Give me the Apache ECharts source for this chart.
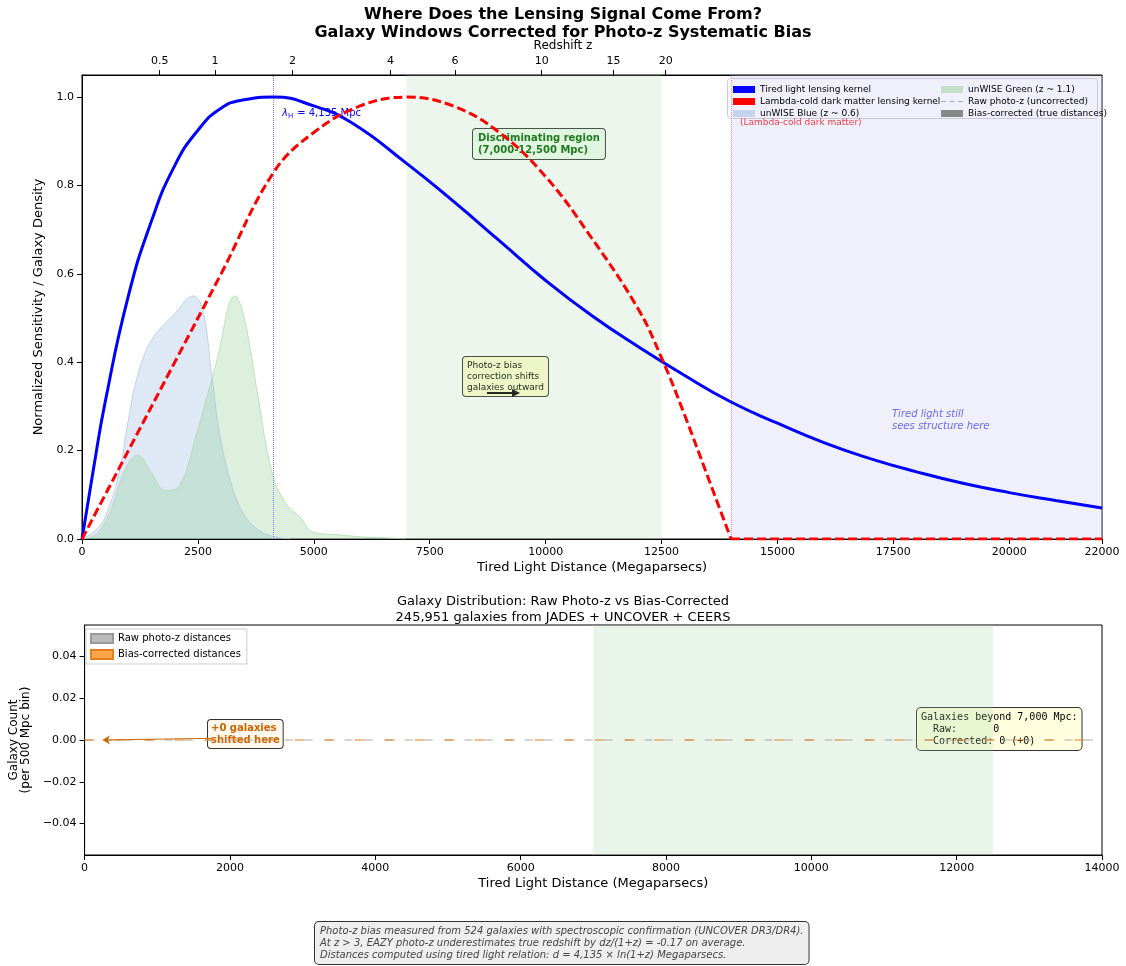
<!DOCTYPE html><html><head><meta charset="utf-8"><script src="https://cdn.jsdelivr.net/npm/echarts@6/dist/echarts.min.js"></script>
<style>body{margin:0}#c{width:1126px;height:966px}</style></head><body><div id="c"></div><script>
const tiredLight=[[0,0],[250,0.16],[500,0.31],[1000,0.55],[1500,0.72],[2000,0.845],[2500,0.925],[3000,0.975],[3500,0.994],[4135,1.0],[5000,0.98],[5800,0.943],[7000,0.85],[8000,0.765],[9000,0.675],[10000,0.585],[11000,0.505],[12000,0.435],[13000,0.37],[14000,0.31],[15000,0.262],[16000,0.218],[17000,0.182],[18000,0.152],[19000,0.126],[20000,0.105],[21000,0.087],[22000,0.07]];
const lcdm=[[0,0],[1000,0.2],[2000,0.4],[3000,0.6],[4135,0.83],[5000,0.92],[6000,0.98],[7000,1.0],[8000,0.98],[9000,0.92],[10000,0.82],[11000,0.68],[12000,0.52],[12500,0.41],[13000,0.28],[13500,0.14],[14000,0]];
const lcdmTail=[[14000,0],[22000,0]];
const unwiseBlue=[[0,0],[300,0.02],[500,0.05],[800,0.15],[1000,0.27],[1200,0.37],[1500,0.45],[2000,0.51],[2400,0.55],[2600,0.52],[2800,0.37],[3000,0.22],[3300,0.1],[3600,0.04],[4000,0.01],[4500,0]];
const unwiseGreen=[[0,0],[300,0.01],[600,0.06],[900,0.15],[1200,0.19],[1500,0.15],[1800,0.11],[2100,0.12],[2500,0.25],[2900,0.4],[3300,0.55],[3500,0.5],[3800,0.32],[4100,0.15],[4400,0.08],[4700,0.05],[5000,0.015],[5500,0.01],[6000,0.005],[6500,0.003],[7000,0]];
const redshiftTicks=[0.5,1,2,4,6,10,15,20];
const lambdaH=4135;
const discRegion=[7000,12500];
const lcdmCutoff=14000;
const F='DejaVu Sans';
const chart=echarts.init(document.getElementById('c'));
const lg={orient:'vertical',itemWidth:22,itemHeight:7,itemGap:3,textStyle:{fontSize:9,color:'#000'}};
chart.setOption({
textStyle:{fontFamily:F},
title:[{text:'Where Does the Lensing Signal Come From?\nGalaxy Windows Corrected for Photo-z Systematic Bias',left:'center',top:1,textStyle:{fontSize:16,fontWeight:'bold',lineHeight:18,color:'#000'}},
{text:'Galaxy Distribution: Raw Photo-z vs Bias-Corrected\n245,951 galaxies from JADES + UNCOVER + CEERS',left:'center',top:589,textStyle:{fontSize:13,fontWeight:'normal',lineHeight:16,color:'#000'}}],
grid:[{left:82,right:24,top:75,height:464,show:true,borderColor:'#000',borderWidth:1},{left:82,right:24,top:625,height:230,show:true,borderColor:'#000',borderWidth:1}],
legend:[Object.assign({data:[{name:'Tired light lensing kernel',icon:'rect',itemStyle:{color:'#0000ff'}},{name:'Lambda-cold dark matter lensing kernel',icon:'rect',itemStyle:{color:'#ff0000'}},{name:'unWISE Blue (z ~ 0.6)',icon:'rect'}],left:728,top:80},lg),
Object.assign({data:[{name:'unWISE Green (z ~ 1.1)',icon:'rect'},{name:'Raw photo-z (uncorrected)',icon:'path://M0,0H4V1H0ZM7,0H11V1H7ZM14,0H18V1H14Z'},{name:'Bias-corrected (true distances)',icon:'rect',itemStyle:{color:'#888'}}],left:936,top:80},lg),
{data:[{name:'Raw photo-z distances',icon:'rect'},{name:'Bias-corrected distances',icon:'rect'}],orient:'vertical',left:86,top:629,itemWidth:22,itemHeight:9,itemGap:5,textStyle:{fontSize:10,color:'#000'},backgroundColor:'#fff',borderColor:'#ccc',borderWidth:1,padding:[4,6,4,4]}],
xAxis:[{gridIndex:0,type:'value',min:0,max:22000,interval:2500,name:'Tired Light Distance (Megaparsecs)',nameLocation:'middle',nameGap:22,nameTextStyle:{fontSize:13,color:'#000'},axisLine:{lineStyle:{color:'#000'}},axisLabel:{color:'#000',fontSize:11,formatter:v=>String(v)},splitLine:{show:false},axisTick:{lineStyle:{color:'#000'}}},
{gridIndex:0,type:'value',position:'top',min:0,max:22000,axisLine:{lineStyle:{color:'#000'}},splitLine:{show:false},
 axisLabel:{color:'#000',fontSize:11,customValues:redshiftTicks.map(z=>lambdaH*Math.log(1+z)),formatter:v=>{const z=Math.exp(v/lambdaH)-1;return String(Math.round(z*10)/10);}},axisTick:{customValues:redshiftTicks.map(z=>lambdaH*Math.log(1+z)),lineStyle:{color:'#000'}}},
{gridIndex:1,type:'value',min:0,max:14000,interval:2000,name:'Tired Light Distance (Megaparsecs)',nameLocation:'middle',nameGap:22,nameTextStyle:{fontSize:13,color:'#000'},axisLine:{onZero:false,lineStyle:{color:'#000'}},axisLabel:{color:'#000',fontSize:11,formatter:v=>String(v)},splitLine:{show:false},axisTick:{lineStyle:{color:'#000'}}}],
yAxis:[{gridIndex:0,type:'value',min:0,max:1.05,name:'Normalized Sensitivity / Galaxy Density',nameLocation:'middle',nameGap:34,nameTextStyle:{fontSize:13,color:'#000'},axisLine:{show:true,lineStyle:{color:'#000'}},axisTick:{show:true,customValues:[0,0.2,0.4,0.6,0.8,1.0]},axisLabel:{color:'#000',fontSize:11,customValues:[0,0.2,0.4,0.6,0.8,1.0],formatter:v=>v.toFixed(1)},splitLine:{show:false}},
{gridIndex:1,type:'value',min:-0.055,max:0.055,name:'Galaxy Count\n(per 500 Mpc bin)',nameLocation:'middle',nameGap:44,nameTextStyle:{fontSize:12,color:'#000'},axisLine:{show:true,onZero:false,lineStyle:{color:'#000'}},axisTick:{show:true,customValues:[-0.04,-0.02,0,0.02,0.04]},axisLabel:{color:'#000',fontSize:11,customValues:[-0.04,-0.02,0,0.02,0.04],formatter:v=>(v<0?'\u2212':'')+Math.abs(v).toFixed(2)},splitLine:{show:false}}],
series:[
{name:'unWISE Blue (z ~ 0.6)',type:'line',xAxisIndex:0,yAxisIndex:0,data:unwiseBlue,smooth:0.4,symbol:'none',lineStyle:{color:'#a8c4e0',width:1,opacity:0.7},itemStyle:{color:'rgba(158,192,226,0.55)',borderColor:'#a8c4e0'},areaStyle:{color:'rgba(150,185,222,0.45)'},z:2,
 markArea:{silent:true,itemStyle:{color:'rgba(160,210,160,0.2)'},data:[[{xAxis:discRegion[0]},{xAxis:discRegion[1]}]]}},
{name:'unWISE Green (z ~ 1.1)',type:'line',xAxisIndex:0,yAxisIndex:0,data:unwiseGreen,smooth:0.4,symbol:'none',lineStyle:{color:'#a8d8a8',width:1,opacity:0.7},itemStyle:{color:'rgba(150,210,150,0.5)',borderColor:'#a8d8a8'},areaStyle:{color:'rgba(140,205,140,0.42)'},z:2,
 markArea:{silent:true,itemStyle:{color:'rgba(200,200,245,0.28)'},data:[[{xAxis:lcdmCutoff},{xAxis:22000}]]}},
{name:'Tired light lensing kernel',type:'line',xAxisIndex:0,yAxisIndex:0,data:tiredLight,smooth:0.5,symbol:'none',lineStyle:{color:'#0000ff',width:3},itemStyle:{color:'#0000ff'},z:5,
 markLine:{silent:true,symbol:'none',label:{show:false},data:[{xAxis:lambdaH,lineStyle:{color:'#8080ff',type:'dotted',width:1}},{xAxis:lcdmCutoff,lineStyle:{color:'#ff80c0',type:'dotted',width:1}}]}},
{name:'Lambda-cold dark matter lensing kernel',type:'line',xAxisIndex:0,yAxisIndex:0,data:lcdm,smooth:0.4,symbol:'none',lineStyle:{color:'#ff0000',width:3,type:[9,4]},itemStyle:{color:'#ff0000'},z:5},
{name:'lcdmTail',type:'line',xAxisIndex:0,yAxisIndex:0,data:lcdmTail,symbol:'none',lineStyle:{color:'#ff0000',width:3,type:[9,4]},z:5},
{name:'Raw photo-z (uncorrected)',type:'line',xAxisIndex:0,yAxisIndex:0,data:[],itemStyle:{color:'#aaa'},symbol:'none'},
{name:'Bias-corrected (true distances)',type:'line',xAxisIndex:0,yAxisIndex:0,data:[],itemStyle:{color:'#888'},symbol:'none'},
{name:'Raw photo-z distances',type:'line',xAxisIndex:2,yAxisIndex:1,data:[[0,0],[14000,0]],symbol:'none',lineStyle:{color:'#aaa',type:[8,12],width:1},itemStyle:{color:'#bbb',borderColor:'#999',borderWidth:1},
 markArea:{silent:true,itemStyle:{color:'rgba(160,210,160,0.22)'},data:[[{xAxis:discRegion[0]},{xAxis:discRegion[1]}]]}},
{name:'Bias-corrected distances',type:'line',xAxisIndex:2,yAxisIndex:1,data:[[0,0],[14000,0]],symbol:'none',lineStyle:{color:'#e08020',type:[10,20],width:1},itemStyle:{color:'#ffa64d',borderColor:'#e08020',borderWidth:1},
 markLine:{silent:true,symbol:['none','arrow'],symbolSize:7,lineStyle:{color:'#cc6600',type:'solid',width:1},label:{show:false},data:[[{coord:[1750,0.0008]},{coord:[250,0]}]]}}
],
graphic:[
{type:'text',left:'center',top:40,style:{text:'Redshift z',font:'12px DejaVu Sans',fill:'#000'}},
{type:'rect',left:727,top:78,z:0,shape:{width:370,height:40,r:3},style:{fill:'#fff',stroke:'#ccc'}},
{type:'text',left:282,top:108,style:{text:'λ',font:'italic 10px DejaVu Sans',fill:'#0000ff'}},
{type:'text',left:288,top:113,style:{text:'H',font:'7px DejaVu Sans',fill:'#0000ff'}},
{type:'text',left:294,top:108,style:{text:' = 4,135 Mpc',font:'10px DejaVu Sans',fill:'#0000ff'}},
{type:'text',left:740,top:118,style:{text:'(Lambda-cold dark matter)',font:'9px DejaVu Sans',fill:'#ff0000'}},
{type:'text',left:472,top:128,style:{text:'Discriminating region\n(7,000-12,500 Mpc)',font:'bold 10px DejaVu Sans',fill:'#006400',align:'center',lineHeight:12,backgroundColor:'#f0fff0',borderColor:'#333',borderWidth:1,borderRadius:3,padding:[3,5]}},
{type:'text',left:462,top:356,style:{text:'Photo-z bias\ncorrection shifts\ngalaxies outward',font:'9px DejaVu Sans',fill:'#000',align:'center',lineHeight:11,backgroundColor:'#ffffd0',borderColor:'#333',borderWidth:1,borderRadius:3,padding:[3,4]}},
{type:'line',shape:{x1:487,y1:393,x2:514,y2:393},style:{stroke:'#000',lineWidth:2}},
{type:'polygon',shape:{points:[[520,393],[512,389],[512,397]]},style:{fill:'#000'}},
{type:'text',left:892,top:408,style:{text:'Tired light still\nsees structure here',font:'italic 10px DejaVu Sans',fill:'#4444ee',align:'center',lineHeight:12}},
{type:'text',left:207,top:719,style:{text:'+0 galaxies\nshifted here',font:'bold 10px DejaVu Sans',fill:'#cc6600',lineHeight:12,backgroundColor:'#fff8ee',borderColor:'#333',borderWidth:1,borderRadius:3,padding:[2,3]}},
{type:'text',left:916,top:707,style:{text:'Galaxies beyond 7,000 Mpc:\n  Raw:      0\n  Corrected: 0 (+0)',font:'10px DejaVu Sans Mono',fill:'#000',lineHeight:12,backgroundColor:'#ffffe0',borderColor:'#333',borderWidth:1,borderRadius:4,padding:[3,4]}},
{type:'text',left:314,top:921,style:{text:'Photo-z bias measured from 524 galaxies with spectroscopic confirmation (UNCOVER DR3/DR4).\nAt z > 3, EAZY photo-z underestimates true redshift by dz/(1+z) = -0.17 on average.\nDistances computed using tired light relation: d = 4,135 × ln(1+z) Megaparsecs.',font:'italic 10px DejaVu Sans',fill:'#444',align:'center',lineHeight:12,backgroundColor:'#eee',borderColor:'#333',borderWidth:1,borderRadius:4,padding:[3,5]}}
]});
</script></body></html>
